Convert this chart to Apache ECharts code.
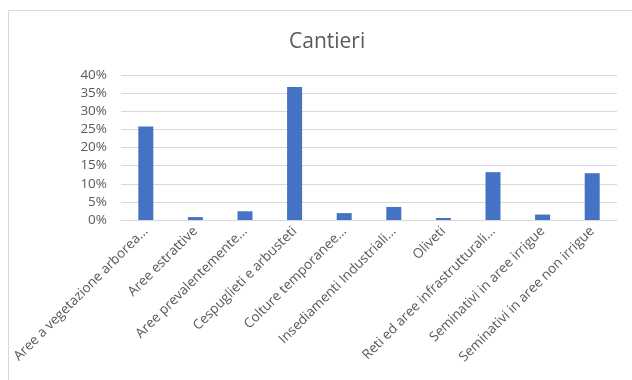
<!DOCTYPE html>
<html>
<head>
<meta charset="utf-8">
<script src="https://cdn.jsdelivr.net/npm/echarts@6/dist/echarts.min.js"></script>
<style>
  html, body { margin: 0; padding: 0; background: #fff; }
  #chart { width: 632px; height: 380px; }
</style>
</head>
<body>
<div id="chart"></div>
<script>
// Land-cover categories (labels shortened as shown on the axis)
const categories = [
  'Aree a vegetazione arborea...',
  'Aree estrattive',
  'Aree prevalentemente...',
  'Cespuglieti e arbusteti',
  'Colture temporanee...',
  'Insediamenti Industriali...',
  'Oliveti',
  'Reti ed aree infrastrutturali...',
  'Seminativi in aree irrigue',
  'Seminativi in aree non irrigue'
];
// Share of construction sites per category (fraction)
const shares = [0.258, 0.008, 0.024, 0.367, 0.019, 0.036, 0.0055, 0.132, 0.015, 0.129];
const chartTitle = 'Cantieri';

const chart = echarts.init(document.getElementById('chart'), null, { renderer: 'canvas' });
const font = "'Open Sans', 'Liberation Sans', sans-serif";

chart.setOption({
  backgroundColor: '#ffffff',
  animation: false,
  title: {
    text: chartTitle,
    left: 284,
    top: 27,
    textStyle: { fontFamily: font, fontSize: 21, fontWeight: 'normal', color: '#595959' }
  },
  graphic: [{
    type: 'rect',
    shape: { x: 8.5, y: 10.5, width: 700, height: 500 },
    style: { fill: 'none', stroke: '#d9d9d9', lineWidth: 1 },
    silent: true
  }],
  grid: { left: 121, right: 15, top: 75, bottom: 160 },
  xAxis: {
    type: 'category',
    data: categories,
    axisLine: { show: true, lineStyle: { color: '#d9d9d9' } },
    axisTick: { show: false },
    axisLabel: {
      interval: 0,
      rotate: 45,
      margin: 9,
      fontFamily: font,
      fontSize: 13.5,
      color: '#595959'
    }
  },
  yAxis: {
    type: 'value',
    min: 0,
    max: 0.4,
    interval: 0.05,
    axisLine: { show: false },
    axisTick: { show: false },
    splitLine: { lineStyle: { color: '#d9d9d9', width: 1 } },
    axisLabel: {
      margin: 14,
      fontFamily: font,
      fontSize: 13.5,
      color: '#595959',
      formatter: v => Math.round(v * 100) + '%'
    }
  },
  series: [{
    type: 'bar',
    data: shares,
    barWidth: 15,
    itemStyle: { color: '#4472C4' }
  }]
});
</script>
</body>
</html>
